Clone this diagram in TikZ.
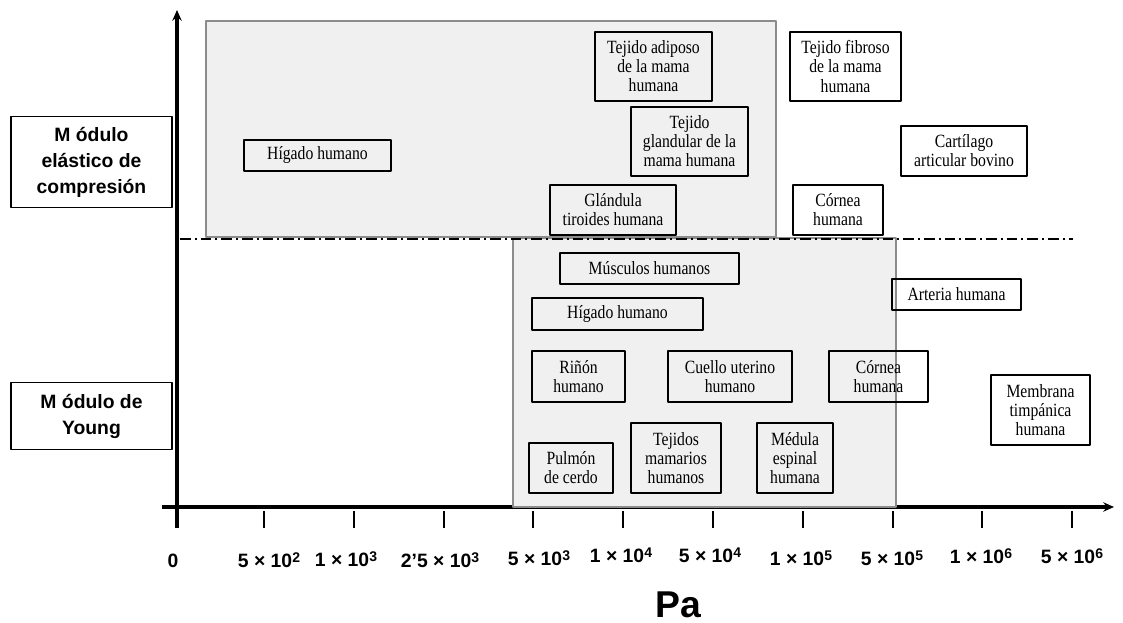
\documentclass[tikz,border=0pt]{standalone}
\usepackage{fontspec}
\setmainfont[FakeStretch=0.84]{Liberation Serif}
\setsansfont{Liberation Sans}
\usetikzlibrary{arrows.meta}
\newcommand{\potencia}[1]{\raisebox{3.2pt}{\fontsize{10.5}{10.5}\selectfont #1}}
\begin{document}
\begin{tikzpicture}[x=0.75pt,y=-0.75pt,line join=round,>={Stealth[length=8pt,width=7pt]},
	caja/.style 2 args={draw,line width=0.8pt,inner sep=0pt,align=center,minimum width=#1*0.75pt,minimum height=#2*0.75pt,font=\fontsize{14}{14.3}\selectfont},
	rotulo/.style={draw,line width=0.8pt,inner sep=0pt,align=center,minimum width=161*0.75pt,font=\sffamily\bfseries\fontsize{14.5}{19.5}\selectfont},
	zona/.style={fill=black!6,draw=black!45,line width=2pt}]
	\useasboundingbox (0,0) rectangle (1123,623);
	\draw[line width=2.5pt,->] (177,528) -- (177,10);
	\draw[line width=2.5pt,->] (162,507) -- (1114,507);
	\foreach \i in {0,...,9}{\draw[line width=1.5pt] ({264+89.8*\i},511) -- ({264+89.8*\i},528);}
	\foreach \xx/\yy/\txt [count=\k] in {173/567/0, 269/567/5 × 10\potencia{2}, 346/566/1 × 10\potencia{3}, 440/567/2'5 × 10\potencia{3}, 539/565/5 × 10\potencia{3}, 621/562/1 × 10\potencia{4}, 710/562/5 × 10\potencia{4}, 801/565/1 × 10\potencia{5}, 892/565/5 × 10\potencia{5}, 981/563/1 × 10\potencia{6}, 1072/563/5 × 10\potencia{6}}
		{\node[anchor=base,inner sep=0pt,font=\sffamily\bfseries\fontsize{14.5}{16}\selectfont] (val\k) at (\xx,\yy) {\txt};}
	\node[anchor=base,inner sep=0pt,font=\sffamily\bfseries\fontsize{28}{30}\selectfont] (pa) at (678,617) {Pa};
	\draw[zona] (206,21) rectangle (776,237);
	\draw[zona] (513,238) rectangle (896,507);
	\draw[line width=1.5pt,dash pattern=on 8pt off 3pt on 1.5pt off 3pt] (180,239) -- (1073,239);
	\node[rotulo,minimum height=91*0.75pt] (compresion) at (91.5,162) {M ódulo\\elástico de\\compresión};
	\node[rotulo,minimum height=67*0.75pt] (young) at (91.5,416) {M ódulo de\\Young};
	\node[caja={117}{69}] (adiposo) at (653.5,66.5) {Tejido adiposo\\de la mama\\humana};
	\node[caja={111}{69}] (fibroso) at (845.5,66.5) {Tejido fibroso\\de la mama\\humana};
	\node[caja={117}{69}] (glandular) at (689.5,141.5) {Tejido\\glandular de la\\mama humana};
	\node[caja={126}{50}] (cartilago) at (964,151) {Cartílago\\articular bovino};
	\node[caja={126}{50}] (tiroides) at (613,210) {Glándula\\tiroides humana};
	\node[caja={90}{50}] (corneaA) at (838,210) {Córnea\\humana};
	\node[caja={147}{31}] (higadoA) at (317.5,155.5) {Hígado humano};
	\node[caja={179}{31}] (musculos) at (649.5,268.5) {Músculos humanos};
	\node[caja={129}{31}] (arteria) at (956.5,294.5) {Arteria humana};
	\node[caja={171}{32}] (higadoB) at (617.5,314) {Hígado humano};
	\node[caja={93}{51}] (rinon) at (578.5,376.5) {Riñón\\humano};
	\node[caja={124}{51}] (cuello) at (730,376.5) {Cuello uterino\\humano};
	\node[caja={99}{51}] (corneaB) at (878.5,376.5) {Córnea\\humana};
	\node[caja={99}{70}] (membrana) at (1040.5,410) {Membrana\\timpánica\\humana};
	\node[caja={84}{50}] (pulmon) at (571,468) {Pulmón\\de cerdo};
	\node[caja={90}{70}] (mamarios) at (676,458) {Tejidos\\mamarios\\humanos};
	\node[caja={76}{70}] (medula) at (795,458) {Médula\\espinal\\humana};
\end{tikzpicture}
\end{document}
